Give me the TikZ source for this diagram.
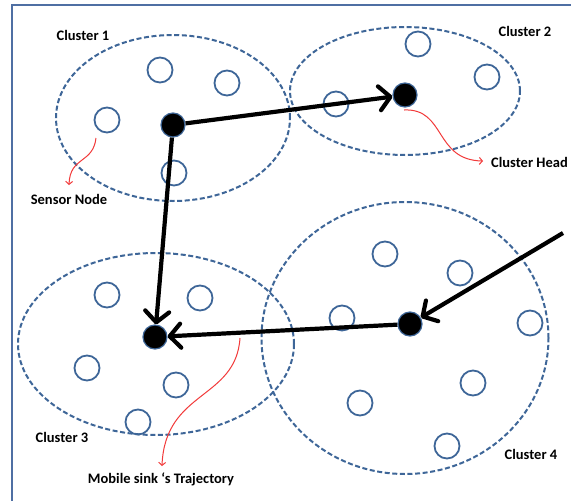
\documentclass[tikz,border=0pt]{standalone}
\usepackage{fontspec}
\setmainfont{Carlito}
\usetikzlibrary{arrows.meta,shapes.geometric}
\definecolor{netblue}{HTML}{3E6698}
\definecolor{framblue}{HTML}{4F6FA3}
\definecolor{pathred}{HTML}{F23A3A}
\begin{document}
\begin{tikzpicture}[x=1pt,y=-1pt,
  cluster/.style={ellipse, draw=netblue, dashed, dash pattern=on 5pt off 2.6pt, line width=2pt, inner sep=0pt},
  sensor/.style={circle, draw=netblue, line width=1.8pt, minimum size=25pt, inner sep=0pt},
  head/.style={circle, fill=black, draw=netblue, line width=1.2pt, minimum size=24pt, inner sep=0pt},
  hop/.style={line width=4.2pt, -{Straight Barb[length=11pt,width=24pt,round]}},
  pointer/.style={draw=pathred, line width=1pt, -{Straight Barb[length=3pt,width=7pt]}},
  lbl/.style={font=\fontsize{14.5}{16}\selectfont\bfseries, text=black, inner sep=0pt}]
\useasboundingbox (0,0) rectangle (571,501);
\fill[white] (0,0) rectangle (571,501);
% page frame (left and top rules)
\draw[framblue, line width=2pt] (12,501) -- (12,5) -- (571,5);

% clusters
\node[cluster, minimum width=234pt, minimum height=166pt] (c1) at (173,118) {};
\node[cluster, minimum width=230pt, minimum height=128pt] (c2) at (405,91) {};
\node[cluster, minimum width=276pt, minimum height=182pt] (c3) at (156,344) {};
\node[cluster, minimum width=287pt, minimum height=272pt] (c4) at (405,338) {};

% sensor nodes
\node[sensor] (s11) at (160,70) {};
\node[sensor] (s12) at (227,83) {};
\node[sensor] (s13) at (107,120) {};
\node[sensor] (s14) at (174,173) {};
\node[sensor] (s21) at (418,44) {};
\node[sensor] (s22) at (487,77) {};
\node[sensor] (s23) at (336,104) {};
\node[sensor] (s31) at (107,295) {};
\node[sensor] (s32) at (200,298) {};
\node[sensor] (s33) at (87,368) {};
\node[sensor] (s34) at (176,385) {};
\node[sensor] (s35) at (138,422) {};
\node[sensor] (s41) at (385,254) {};
\node[sensor] (s42) at (460,273) {};
\node[sensor] (s43) at (342,318) {};
\node[sensor] (s44) at (530,323) {};
\node[sensor] (s45) at (473,383) {};
\node[sensor] (s46) at (360,403) {};
\node[sensor] (s47) at (447,446) {};

% cluster heads
\node[head] (h1) at (173,125) {};
\node[head] (h2) at (405,95) {};
\node[head] (h3) at (155,337) {};
\node[head] (h4) at (410,324) {};
\coordinate (entry) at (563,233);

% mobile sink trajectory
\draw[hop] (h1) -- (h2);
\draw[hop] (h1) -- (h3);
\draw[hop] (entry) -- (h4);
\draw[hop] (h4) -- (h3);

% callout pointers
\coordinate (p1) at (96,138);
\coordinate (q1) at (69,185);
\coordinate (p2) at (404,110);
\coordinate (q2) at (483,161);
\coordinate (p3) at (240,338);
\coordinate (q3) at (162,466);
\draw[pointer] (p1) .. controls (93,164) and (70,156) .. (q1);
\draw[pointer] (p2) .. controls (446,108) and (434,160) .. (q2);
\draw[pointer] (p3) .. controls (236,400) and (165,390) .. (q3);

% labels
\node[lbl] (l1) at (83,35) {Cluster 1};
\node[lbl] (l2) at (525,31) {Cluster 2};
\node[lbl] (l3) at (62,437) {Cluster 3};
\node[lbl] (l4) at (531,454) {Cluster 4};
\node[lbl] (ln) at (69,199) {Sensor Node};
\node[lbl, anchor=west] (lh) at (491,162) {Cluster Head};
\node[lbl] (lt) at (161,479) {Mobile sink ‘s Trajectory};
\end{tikzpicture}
\end{document}
